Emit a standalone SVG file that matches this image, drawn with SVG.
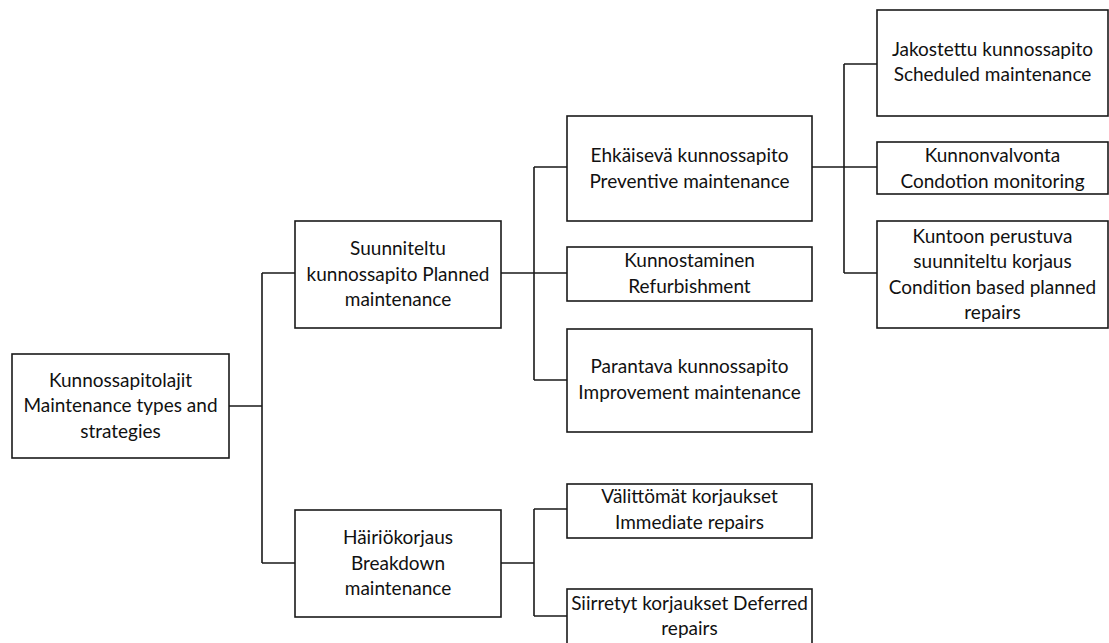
<svg xmlns="http://www.w3.org/2000/svg" width="1109" height="643" viewBox="0 0 1109 643">
<style>
.box{fill:#fff;stroke:#1a1a1a;stroke-width:1.6}
.ln{fill:none;stroke:#1a1a1a;stroke-width:1.6}
text{font-family:Lato,"Liberation Sans",sans-serif;font-size:19px;fill:#111;text-anchor:middle}
</style>
<rect width="1109" height="643" fill="#fff"/>
<g id="connectors">
<path class="ln" d="M229,406 H262 M262,273 V563 M262,273 H295 M262,563 H295"/>
<path class="ln" d="M501,273 H534 M534,167 V380 M534,167 H567 M534,273 H567 M534,380 H567"/>
<path class="ln" d="M812,167 H844 M844,64 V273 M844,64 H877 M844,167 H877 M844,273 H877"/>
<path class="ln" d="M501,563 H534 M534,509 V616 M534,509 H567 M534,616 H567"/>
</g>
<g id="root">
<rect class="box" x="12" y="354" width="217" height="104"/>
<text x="120.5" y="387">Kunnossapitolajit</text>
<text x="120.5" y="412">Maintenance types and</text>
<text x="120.5" y="438">strategies</text>
</g>
<g id="planned">
<rect class="box" x="295" y="221" width="206" height="107"/>
<text x="398" y="255">Suunniteltu</text>
<text x="398" y="281">kunnossapito Planned</text>
<text x="398" y="306">maintenance</text>
</g>
<g id="breakdown">
<rect class="box" x="295" y="510" width="206" height="107"/>
<text x="398" y="544">Häiriökorjaus</text>
<text x="398" y="570">Breakdown</text>
<text x="398" y="595">maintenance</text>
</g>
<g id="preventive">
<rect class="box" x="567" y="116" width="245" height="105"/>
<text x="689.5" y="162">Ehkäisevä kunnossapito</text>
<text x="689.5" y="188">Preventive maintenance</text>
</g>
<g id="refurbishment">
<rect class="box" x="567" y="247" width="245" height="54"/>
<text x="689.5" y="267">Kunnostaminen</text>
<text x="689.5" y="293">Refurbishment</text>
</g>
<g id="improvement">
<rect class="box" x="567" y="329" width="245" height="103"/>
<text x="689.5" y="373">Parantava kunnossapito</text>
<text x="689.5" y="399">Improvement maintenance</text>
</g>
<g id="immediate">
<rect class="box" x="567" y="484" width="245" height="54"/>
<text x="689.5" y="503">Välittömät korjaukset</text>
<text x="689.5" y="529">Immediate repairs</text>
</g>
<g id="deferred">
<rect class="box" x="567" y="589" width="245" height="60"/>
<text x="689.5" y="610">Siirretyt korjaukset Deferred</text>
<text x="689.5" y="635">repairs</text>
</g>
<g id="scheduled">
<rect class="box" x="877" y="10" width="231" height="106"/>
<text x="992.5" y="56">Jakostettu kunnossapito</text>
<text x="992.5" y="81">Scheduled maintenance</text>
</g>
<g id="monitoring">
<rect class="box" x="877" y="142" width="231" height="52"/>
<text x="992.5" y="162">Kunnonvalvonta</text>
<text x="992.5" y="188">Condotion monitoring</text>
</g>
<g id="conditionbased">
<rect class="box" x="877" y="221" width="231" height="107"/>
<text x="992.5" y="243">Kuntoon perustuva</text>
<text x="992.5" y="268">suunniteltu korjaus</text>
<text x="992.5" y="294">Condition based planned</text>
<text x="992.5" y="319">repairs</text>
</g>
</svg>
